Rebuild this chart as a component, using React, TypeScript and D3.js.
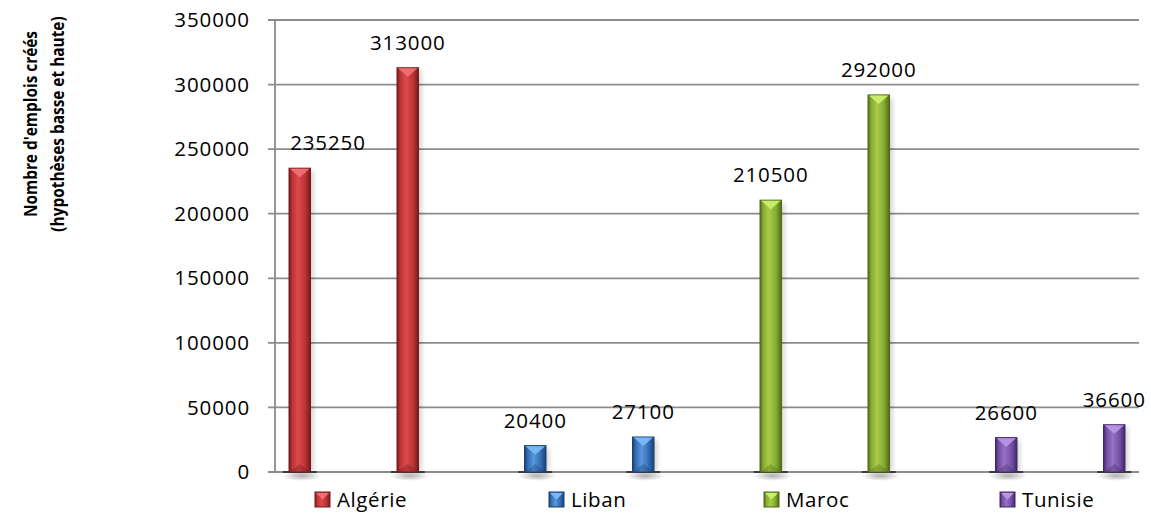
import React from "react";
import * as d3 from "d3";

// series = countries, each has a low and a high hypothesis
const countries = ["Algérie", "Liban", "Maroc", "Tunisie"];
const hypotheses = ["basse", "haute"];
const basse = [235250, 20400, 210500, 26600];
const haute = [313000, 27100, 292000, 36600];
const yTicks = [0, 50000, 100000, 150000, 200000, 250000, 300000, 350000];

const palette: Record<string, { light: string; mid: string; dark: string }> = {
  "Algérie": { light: "#dc4a4c", mid: "#bb3436", dark: "#741b1c" },
  "Liban": { light: "#5a96da", mid: "#346db3", dark: "#1b4173" },
  "Maroc": { light: "#a8cc48", mid: "#87aa33", dark: "#506a1a" },
  "Tunisie": { light: "#9673c6", mid: "#7450a3", dark: "#412766" },
};
const capColor: Record<string, string> = {
  "Algérie": "#f07070",
  "Liban": "#7ab8f5",
  "Maroc": "#c9ee6c",
  "Tunisie": "#b796e6",
};

const W = 1151;
const H = 513;
const left = 275;
const right = 1139;
const top = 20;
const bottom = 472;
const font = "'Open Sans', 'Noto Sans', sans-serif";
const fs = 20.5;

type Bar = { cat: string; country: string; value: number };

const bars: Bar[] = [];
countries.forEach((c, i) => {
  hypotheses.forEach((h) => {
    bars.push({ cat: `${c} ${h}`, country: c, value: h === "basse" ? basse[i] : haute[i] });
  });
});
const categories = bars.map((b) => b.cat);

const legendX = [315, 549, 764, 1000];

export default function App() {
  const x = d3.scaleBand<string>().domain(categories).range([left, right]).paddingInner(0.278).paddingOuter(0.139);
  const xs = d3.scaleBand<string>().domain(countries).range([0, x.bandwidth()]);
  const y = d3.scaleLinear().domain([0, 350000]).range([bottom, top]);
  const bw = xs.bandwidth() + 2;
  const labelHalf = 38;

  return (
    <svg width={W} height={H} style={{ position: "absolute", left: 0, top: 0, background: "#fff" }}>
      <defs>
        {countries.map((c) => (
          <linearGradient key={c} id={`g-${c}`} x1="0" x2="1" y1="0" y2="0">
            <stop offset="0" stopColor={palette[c].dark} />
            <stop offset="0.15" stopColor={palette[c].mid} />
            <stop offset="0.42" stopColor={palette[c].light} />
            <stop offset="0.75" stopColor={palette[c].mid} />
            <stop offset="1" stopColor={palette[c].dark} />
          </linearGradient>
        ))}
        <radialGradient id="floor" cx="0.5" cy="0.5" r="0.5">
          <stop offset="0" stopColor="#000" stopOpacity={0.3} />
          <stop offset="1" stopColor="#000" stopOpacity={0} />
        </radialGradient>
        <filter id="blur" x="-50%" y="-50%" width="200%" height="200%">
          <feGaussianBlur stdDeviation="2.5" />
        </filter>
      </defs>

      {/* y axis title */}
      <g fontFamily={font} fontWeight="bold" fontSize={17.5} fill="#000" textAnchor="middle">
        <text transform="translate(37,124) rotate(-90) scale(0.88,1)">Nombre d'emplois créés</text>
        <text transform="translate(64,124) rotate(-90) scale(0.88,1)">(hypothèses basse et haute)</text>
      </g>

      {/* gridlines and ticks */}
      {yTicks.map((t) => (
        <g key={t}>
          <line x1={left - 7} x2={right} y1={y(t)} y2={y(t)} stroke="#8c8c8c" strokeWidth={1.8} />
          <text x={250} y={y(t)} dy="0.35em" textAnchor="end" fontFamily={font} fontSize={fs} letterSpacing={0.9} fill="#000">
            {t}
          </text>
        </g>
      ))}
      <line x1={left} x2={left} y1={top} y2={bottom} stroke="#8c8c8c" strokeWidth={1.8} />

      {/* bars */}
      {bars.map((b) => {
        const cx = (x(b.cat) as number) + (xs(b.country) as number) + xs.bandwidth() / 2;
        const x0 = cx - bw / 2;
        const yt = y(b.value);
        const p = palette[b.country];
        const lx = Math.max(cx, left + 15 + labelHalf);
        return (
          <g key={b.cat}>
            <ellipse cx={cx + 2} cy={bottom + 4} rx={bw * 0.9} ry={5} fill="url(#floor)" />
            <rect x={x0 + 3} y={yt + 3} width={bw} height={bottom - yt - 3} fill="#000" opacity={0.18} filter="url(#blur)" />
            <line x1={cx - 17} x2={cx + 17} y1={bottom} y2={bottom} stroke="#3a3a3a" strokeWidth={2} />
            <rect x={x0} y={yt} width={bw} height={bottom - yt} fill={`url(#g-${b.country})`} stroke={p.dark} strokeWidth={1} />
            <path d={`M${x0 + 1},${yt + 0.5} L${x0 + bw - 1},${yt + 0.5} L${cx},${yt + 9} Z`} fill={capColor[b.country]} opacity={0.95} />
            <path d={`M${x0 + 1},${bottom - 0.5} L${x0 + bw - 1},${bottom - 0.5} L${cx},${bottom - 8} Z`} fill={p.dark} opacity={0.35} />
            <text x={lx} y={yt - 18} textAnchor="middle" fontFamily={font} fontSize={fs} letterSpacing={0.9} fill="#000">
              {b.value}
            </text>
          </g>
        );
      })}

      {/* legend */}
      {countries.map((c, i) => {
        const p = palette[c];
        const lx = legendX[i];
        const ly = 492;
        const s = 15;
        return (
          <g key={c}>
            <rect x={lx} y={ly} width={s} height={s} fill={`url(#g-${c})`} stroke={p.dark} strokeWidth={1} />
            <path d={`M${lx + 1},${ly + 1} L${lx + s - 1},${ly + 1} L${lx + s / 2},${ly + s / 2} Z`} fill={capColor[c]} />
            <text x={lx + s + 7} y={ly + s / 2} dy="0.36em" fontFamily={font} fontSize={fs} letterSpacing={0.6} fill="#000">
              {c}
            </text>
          </g>
        );
      })}
    </svg>
  );
}
